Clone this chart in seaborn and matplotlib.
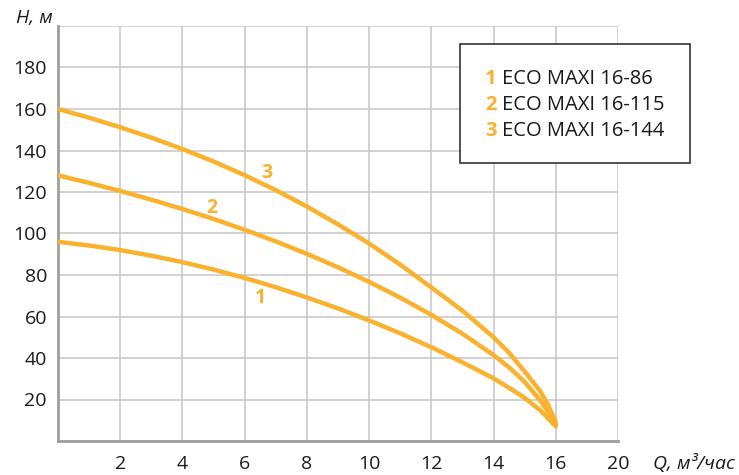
import pandas as pd
import matplotlib
matplotlib.use("Agg")
import matplotlib.pyplot as plt
import seaborn as sns
from matplotlib.patches import Rectangle

# ----------------------------
# DATA
# ----------------------------
q = [0, 1, 2, 3, 4, 5, 6, 7, 8, 9, 10, 11, 12, 13, 14, 14.5, 15, 15.5, 15.75, 16]
h_86 = [96, 94.2, 92, 89.3, 86.2, 82.6, 78.6, 74.1, 69.2, 63.9, 58.1, 51.9, 45.2,
        37.9, 30.2, 25.6, 20.8, 14.8, 11, 7]
h_115 = [128, 124.4, 120.5, 116.3, 111.8, 107, 101.8, 96.2, 90.2, 83.7, 76.7, 69.1,
         60.8, 51.7, 41.4, 35.5, 28.5, 19.5, 14, 8]
h_144 = [160, 155.8, 151.2, 146.2, 140.7, 134.7, 128.1, 120.9, 113, 104.4, 95.2, 85,
         74, 62.8, 50, 42.5, 33.5, 24, 17.5, 9]

models = ["ECO MAXI 16-86", "ECO MAXI 16-115", "ECO MAXI 16-144"]
curve_nums = ["1", "2", "3"]
label_pos = [(6.5, 69), (4.95, 112.5), (6.72, 129)]

x_ticks = [2, 4, 6, 8, 10, 12, 14, 16, 18]
x_tick_labels = ["2", "4", "6", "8", "10", "12", "14", "16", "20"]
y_ticks = [20, 40, 60, 80, 100, 120, 140, 160, 180]

ORANGE = "#F9B12E"
GRID = "#C9C9C9"
SPINE = "#9E9E9E"

df = pd.concat([
    pd.DataFrame({"Q": q, "H": h, "model": m})
    for h, m in zip([h_86, h_115, h_144], models)
])

# ----------------------------
# PLOT
# ----------------------------
sns.set_style("white")
plt.rcParams["font.family"] = ["Open Sans", "DejaVu Sans"]

fig = plt.figure(figsize=(7.39, 4.75), dpi=100)
ax = fig.add_axes([58 / 739, 34 / 475, 560 / 739, 415 / 475])

sns.lineplot(data=df, x="Q", y="H", hue="model", palette=[ORANGE] * 3,
             linewidth=3.2, legend=False, ax=ax, zorder=3,
             solid_capstyle="round", solid_joinstyle="round")

ax.set_xlim(0, 18)
ax.set_ylim(0, 200)
ax.set_xticks(x_ticks)
ax.set_xticklabels(x_tick_labels)
ax.set_yticks(y_ticks)
ax.set_xticks([0, 18], minor=True)
ax.set_yticks([0, 200], minor=True)
ax.grid(True, which="both", color=GRID, linewidth=1.2)
ax.set_axisbelow(True)
ax.tick_params(length=0, labelsize=14, colors="#1a1a1a", pad=8)
ax.tick_params(axis="x", pad=10)
ax.set_xlabel("")
ax.set_ylabel("")

for side in ["top", "right"]:
    ax.spines[side].set_visible(False)
for side in ["left", "bottom"]:
    ax.spines[side].set_color(SPINE)
    ax.spines[side].set_linewidth(2)

for num, (lx, ly) in zip(curve_nums, label_pos):
    ax.text(lx, ly, num, color=ORANGE, fontsize=14, fontweight="bold",
            ha="center", va="center")

# axis titles
fig.text(34 / 739, 1 - 18 / 475, "H, м", fontsize=14, style="italic",
         ha="center", va="center", color="#1a1a1a")
fig.text(694 / 739, 1 - 464 / 475, "Q, м³/час", fontsize=14, style="italic",
         ha="center", va="center", color="#1a1a1a")

# legend box
box = Rectangle((460 / 739, 1 - 163 / 475), 230 / 739, 119 / 475,
                transform=fig.transFigure, facecolor="white",
                edgecolor="#333333", linewidth=1.2, zorder=5)
fig.add_artist(box)
for i, (num, m) in enumerate(zip(curve_nums, models)):
    yy = 1 - (79 + 26 * i) / 475
    fig.text(485 / 739, yy, num, color=ORANGE, fontsize=14.5, fontweight="bold",
             ha="left", va="center", zorder=6)
    fig.text(502 / 739, yy, m, color="#1a1a1a", fontsize=14.5,
             ha="left", va="center", zorder=6)

fig.savefig("out.png", dpi=100)
